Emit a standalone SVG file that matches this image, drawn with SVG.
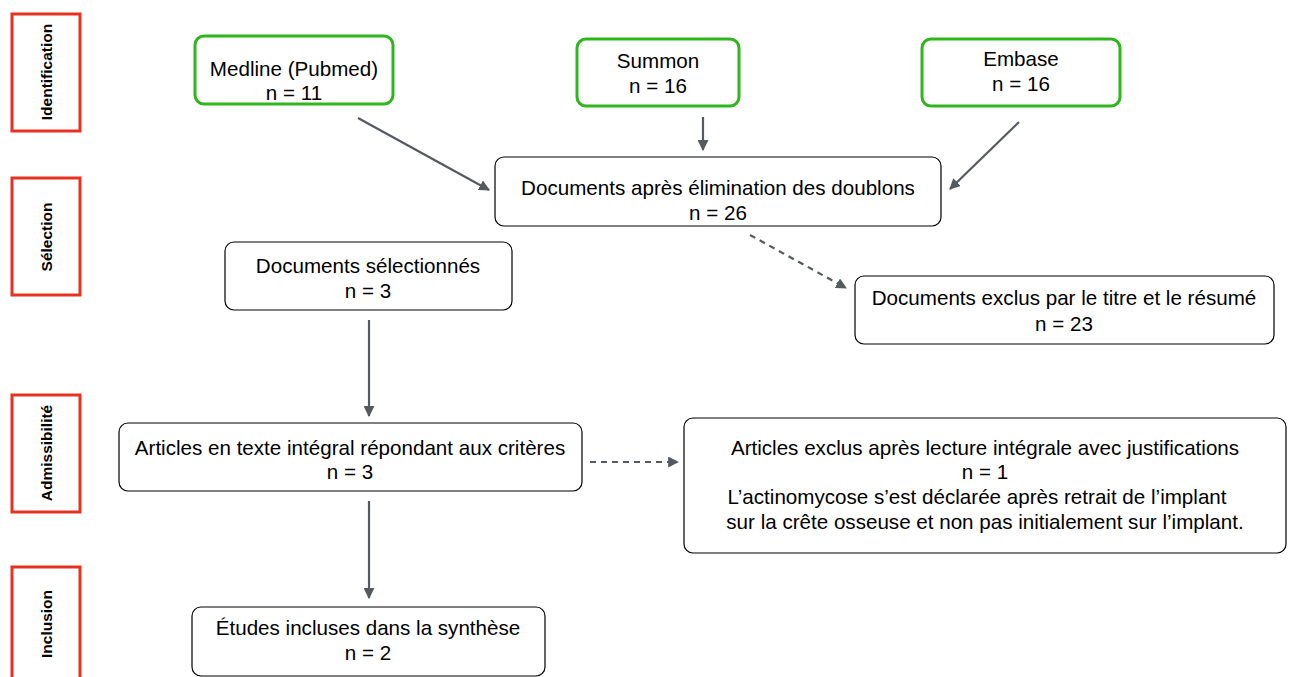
<svg xmlns="http://www.w3.org/2000/svg" width="1291" height="677" viewBox="0 0 1291 677">
<defs>
<style>
.lane{fill:#fff;stroke:#e8321f;stroke-width:3}
.lt{font-family:"Liberation Sans",Arial,sans-serif;font-weight:bold;font-size:15.5px;fill:#000;text-anchor:middle}
.src{fill:#fff;stroke:#2fb61c;stroke-width:3}
.box{fill:#fff;stroke:#000;stroke-width:1.2}
.t{font-family:"Liberation Sans",Arial,sans-serif;font-size:20.6px;fill:#000;text-anchor:middle}
.c{stroke:#555a60;stroke-width:2.2;fill:none}
.d{stroke-dasharray:6,5}
</style>
<marker id="ah" viewBox="0 0 10 10" refX="9" refY="5" markerWidth="5" markerHeight="5" orient="auto" markerUnits="strokeWidth">
<path d="M0,0 L10,5 L0,10 z" fill="#555a60"/>
</marker>
</defs>
<rect width="1291" height="677" fill="#fff"/>
<g id="lane-identification"><rect class="lane" x="12" y="14" width="68" height="117"/><text class="lt" transform="translate(52,72) rotate(-90)">Identification</text></g>
<g id="lane-selection"><rect class="lane" x="12" y="178" width="68" height="117"/><text class="lt" transform="translate(52,237) rotate(-90)">Sélection</text></g>
<g id="lane-admissibilite"><rect class="lane" x="12" y="395" width="68" height="117"/><text class="lt" transform="translate(52,453) rotate(-90)">Admissibilité</text></g>
<g id="lane-inclusion"><rect class="lane" x="12" y="567" width="68" height="117"/><text class="lt" transform="translate(52,624) rotate(-90)">Inclusion</text></g>

<g id="medline"><rect class="src" x="195" y="36" width="198" height="68" rx="9"/><text class="t" x="294" y="76">Medline (Pubmed)</text><text class="t" x="294" y="100">n = 11</text></g>
<g id="summon"><rect class="src" x="577" y="39" width="162" height="67" rx="9"/><text class="t" x="658" y="68">Summon</text><text class="t" x="658" y="93">n = 16</text></g>
<g id="embase"><rect class="src" x="922" y="39" width="198" height="67" rx="9"/><text class="t" x="1021" y="66">Embase</text><text class="t" x="1021" y="91">n = 16</text></g>

<g id="doublons"><rect class="box" x="495" y="157" width="446" height="69" rx="9"/><text class="t" x="718" y="195">Documents après élimination des doublons</text><text class="t" x="718" y="220">n = 26</text></g>
<g id="selectionnes"><rect class="box" x="225" y="242" width="287" height="68" rx="9"/><text class="t" x="368" y="273">Documents sélectionnés</text><text class="t" x="368" y="298">n = 3</text></g>
<g id="exclus-titre"><rect class="box" x="855" y="276" width="419" height="68" rx="9"/><text class="t" x="1064" y="305">Documents exclus par le titre et le résumé</text><text class="t" x="1064" y="331">n = 23</text></g>
<g id="texte-integral"><rect class="box" x="119" y="423" width="463" height="68" rx="9"/><text class="t" x="350" y="455">Articles en texte intégral répondant aux critères</text><text class="t" x="350" y="479">n = 3</text></g>
<g id="exclus-lecture"><rect class="box" x="684" y="418" width="602" height="135" rx="9"/><text class="t" x="985" y="455">Articles exclus après lecture intégrale avec justifications</text><text class="t" x="985" y="479">n = 1</text><text class="t" x="977" y="504">L’actinomycose s’est déclarée après retrait de l’implant</text><text class="t" x="985" y="529">sur la crête osseuse et non pas initialement sur l’implant.</text></g>
<g id="etudes"><rect class="box" x="192" y="607" width="353" height="69" rx="9"/><text class="t" x="368" y="635">Études incluses dans la synthèse</text><text class="t" x="368" y="660">n = 2</text></g>

<g id="connectors">
<line class="c" x1="358" y1="118" x2="489" y2="190" marker-end="url(#ah)"/>
<line class="c" x1="703" y1="117" x2="703" y2="150" marker-end="url(#ah)"/>
<line class="c" x1="1019" y1="122" x2="950" y2="189" marker-end="url(#ah)"/>
<line class="c d" x1="750" y1="235" x2="846" y2="288" marker-end="url(#ah)"/>
<line class="c" x1="369" y1="320" x2="369" y2="416" marker-end="url(#ah)"/>
<line class="c d" x1="590" y1="462" x2="678" y2="462" marker-end="url(#ah)"/>
<line class="c" x1="369" y1="501" x2="369" y2="598" marker-end="url(#ah)"/>
</g>
</svg>
